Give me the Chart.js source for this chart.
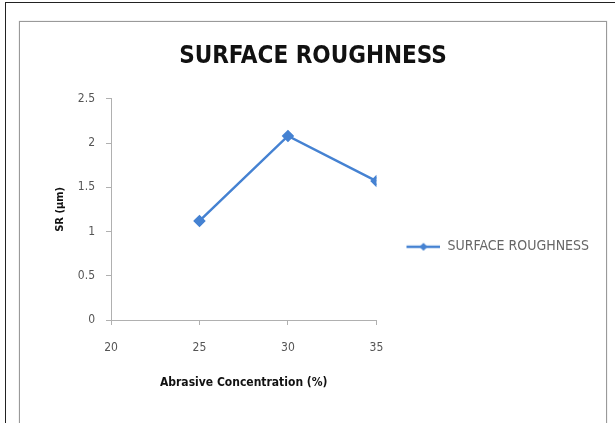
<!DOCTYPE html>
<html>
<head>
<meta charset="utf-8">
<script src="https://cdn.jsdelivr.net/npm/chart.js@4"></script>
<style>
    html, body { margin: 0; padding: 0; background: #fff; }
    body { width: 615px; height: 423px; position: relative; overflow: hidden; }
    .outer-top { position: absolute; left: 5px; top: 2px; width: 610px; height: 1px; background: #222; }
    .outer-left { position: absolute; left: 5px; top: 2px; width: 1px; height: 421px; background: #222; }
    .frame {
        position: absolute; left: 19px; top: 21px; width: 586px; height: 420px;
        border: 1px solid #9a9a9a; box-shadow: 0 0 1px #bbb;
    }
    #chartWrap { position: absolute; left: 0; top: 0; width: 586px; height: 402px; }
</style>
</head>
<body>
<div class="outer-top"></div>
<div class="outer-left"></div>
<div class="frame">
    <div id="chartWrap"><canvas id="srChart"></canvas></div>
</div>
<script>
// Surface roughness vs abrasive concentration
const seriesName = 'SURFACE ROUGHNESS';
const concentration = [25, 30, 35];
const roughness = [1.12, 2.08, 1.57];
const xTicks = [20, 25, 30, 35];
const yTicks = [0, 0.5, 1, 1.5, 2, 2.5];

const lineColor = '#4582d2';
const narrow = '"Liberation Sans Narrow", "DejaVu Sans Condensed", sans-serif';

// legend glyph: blank lead-in, then a short line with a diamond in the middle
function legendGlyph() {
    const c = document.createElement('canvas');
    c.width = 54; c.height = 10;
    const g = c.getContext('2d');
    g.strokeStyle = lineColor;
    g.lineWidth = 2.5;
    g.beginPath(); g.moveTo(20, 5); g.lineTo(54, 5); g.stroke();
    g.fillStyle = lineColor;
    g.beginPath();
    g.moveTo(37, 1); g.lineTo(41, 5); g.lineTo(37, 9); g.lineTo(33, 5);
    g.closePath(); g.fill();
    return c;
}

const points = concentration.map((x, i) => ({ x: x, y: roughness[i] }));

new Chart(document.getElementById('srChart'), {
    type: 'scatter',
    data: {
        datasets: [{
            label: seriesName,
            data: points,
            showLine: true,
            borderColor: lineColor,
            backgroundColor: lineColor,
            borderWidth: 2.5,
            pointStyle: 'rectRot',
            pointRadius: 4.5,
            pointHoverRadius: 4.5
        }]
    },
    options: {
        responsive: true,
        maintainAspectRatio: false,
        animation: false,
        layout: { padding: { left: 7, right: 7, top: 0, bottom: 30 } },
        plugins: {
            title: {
                display: true,
                text: seriesName,
                color: '#111',
                font: { family: narrow, size: 24, weight: 'bold' },
                padding: { top: 20, bottom: 28 }
            },
            legend: {
                position: 'right',
                maxWidth: 260,
                title: { display: true, text: '', padding: 34, font: { size: 8 } },
                labels: {
                    color: '#444',
                    font: { family: narrow, size: 14 },
                    usePointStyle: true,
                    pointStyleWidth: 54,
                    padding: 10,
                    generateLabels: (chart) => [{
                        text: seriesName,
                        pointStyle: legendGlyph(),
                        fillStyle: lineColor,
                        strokeStyle: lineColor,
                        lineWidth: 0,
                        datasetIndex: 0
                    }]
                }
            },
            tooltip: { enabled: false }
        },
        scales: {
            x: {
                type: 'linear',
                min: 20,
                max: 35,
                afterBuildTicks: (s) => { s.ticks = xTicks.map(v => ({ value: v })); },
                title: {
                    display: true,
                    text: 'Abrasive Concentration (%)',
                    color: '#111',
                    font: { family: narrow, size: 12, weight: 'bold' },
                    padding: { top: 4, bottom: 4 }
                },
                ticks: {
                    color: '#555', font: { family: narrow, size: 12 }, padding: 16,
                    callback: (v) => String(v)
                },
                grid: { drawOnChartArea: false, color: '#b0b0b0', tickLength: 5 },
                border: { color: '#b0b0b0' },
                afterFit: (s) => { s.height = 74; }
            },
            y: {
                min: 0,
                max: 2.5,
                afterBuildTicks: (s) => { s.ticks = yTicks.map(v => ({ value: v })); },
                title: {
                    display: true,
                    text: 'SR (µm)',
                    color: '#111',
                    font: { family: narrow, size: 11, weight: 'bold' },
                    padding: { top: 27, bottom: 14 }
                },
                ticks: {
                    color: '#555', font: { family: narrow, size: 12 }, padding: 11,
                    callback: (v) => String(v)
                },
                grid: { drawOnChartArea: false, color: '#b0b0b0', tickLength: 5 },
                border: { color: '#b0b0b0' },
                afterFit: (s) => { s.width = 84; }
            }
        }
    }
});
</script>
</body>
</html>
